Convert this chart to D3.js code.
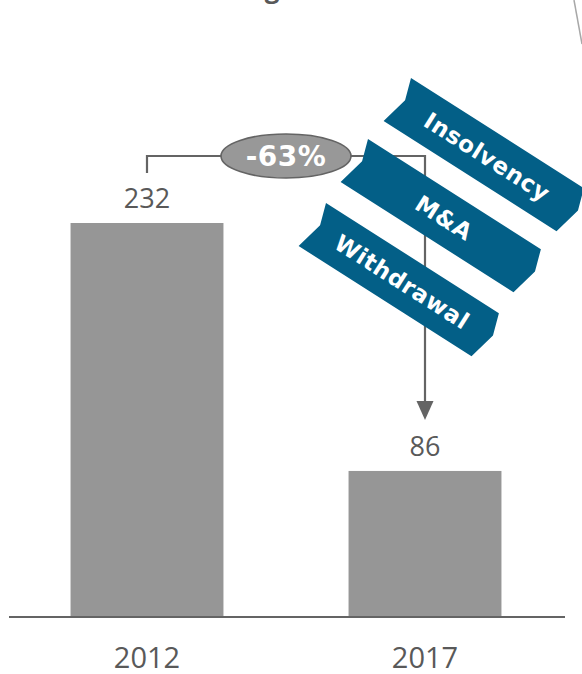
<!DOCTYPE html>
<html>
<head>
<meta charset="utf-8">
<script src="https://cdn.jsdelivr.net/npm/d3@7"></script>
<style>
  body { margin: 0; background: #fff; }
  svg { display: block; }
</style>
</head>
<body>
<div id="chart"></div>
<script>
// data
var years = ["2012", "2017"];
var counts = [232, 86];
var drivers = ["Insolvency", "M&A", "Withdrawal"];

var width = 582, height = 674,
    baseY = 617,
    barColor = "#969696",
    textColor = "#595959",
    lineColor = "#646464",
    bannerColor = "#035f87";

// where the three ribbons sit (top-left corner of each), rotated 32.5deg
var bannerAt = [[411, 78], [368, 139], [326, 203]],
    bannerLen = 205, bannerW = 51;

var svg = d3.select("#chart").append("svg")
  .attr("width", width)
  .attr("height", height);

var x = d3.scaleBand()
  .domain(years)
  .range([8, 564])
  .paddingInner(0.45)
  .paddingOuter(0.225);

var y = d3.scaleLinear()
  .domain([0, 232])
  .range([baseY, 223]);

// cut-off bits at the top of the slide
svg.append("text")
  .attr("x", 272).attr("y", -2)
  .attr("text-anchor", "middle")
  .style("font-family", "Open Sans")
  .style("font-weight", "bold")
  .style("font-size", "26px")
  .style("fill", textColor)
  .text("g");

svg.append("path")
  .attr("d", "M574,0 Q578,22 582,44")
  .style("fill", "none")
  .style("stroke", "#a8a8a8")
  .style("stroke-width", 1.5);

// bars
svg.selectAll("rect.bar")
  .data(counts)
  .enter().append("rect")
  .attr("class", "bar")
  .attr("x", function(d, i) { return x(years[i]); })
  .attr("y", function(d) { return y(d); })
  .attr("width", x.bandwidth())
  .attr("height", function(d) { return y(0) - y(d); })
  .style("fill", barColor);

// value labels
svg.selectAll("text.val")
  .data(counts)
  .enter().append("text")
  .attr("class", "val")
  .attr("x", function(d, i) { return x(years[i]) + x.bandwidth() / 2; })
  .attr("y", function(d) { return y(d) - 15; })
  .attr("text-anchor", "middle")
  .style("font-family", "Open Sans")
  .style("font-size", "27px")
  .style("fill", textColor)
  .text(function(d) { return d; });

// x axis
var axis = svg.append("g")
  .attr("transform", "translate(0," + baseY + ")")
  .call(d3.axisBottom(x).tickSize(0).tickPadding(30));
axis.select(".domain")
  .attr("d", "M9,0H565")
  .style("stroke", lineColor)
  .style("stroke-width", 2);
axis.selectAll("text")
  .style("font-family", "Open Sans")
  .style("font-size", "29px")
  .style("fill", textColor);

// bracket with change bubble
var cx0 = x(years[0]) + x.bandwidth() / 2,
    cx1 = x(years[1]) + x.bandwidth() / 2,
    topY = y(counts[0]) - 67,
    tipY = y(counts[1]) - 51;

svg.append("path")
  .attr("d", "M" + cx0 + "," + (y(counts[0]) - 50) + "V" + topY + "H" + cx1 + "V" + (tipY - 18))
  .style("fill", "none")
  .style("stroke", lineColor)
  .style("stroke-width", 2.2);

svg.append("path")
  .attr("d", "M" + (cx1 - 8.5) + "," + (tipY - 19) + "L" + (cx1 + 8.5) + "," + (tipY - 19) + "L" + cx1 + "," + tipY + "Z")
  .style("fill", lineColor);

var change = (counts[1] - counts[0]) / counts[0];
var mid = (cx0 + cx1) / 2;

svg.append("ellipse")
  .attr("cx", mid).attr("cy", topY)
  .attr("rx", 65).attr("ry", 22)
  .style("fill", "#989898")
  .style("stroke", lineColor)
  .style("stroke-width", 1.6);

svg.append("text")
  .attr("x", mid).attr("y", topY)
  .attr("dy", "0.36em")
  .attr("text-anchor", "middle")
  .style("font-family", "DejaVu Sans")
  .style("font-weight", "bold")
  .style("font-size", "28px")
  .style("letter-spacing", "0.5px")
  .style("fill", "#fff")
  .text(d3.format(".0%")(change).replace("\u2212", "-"));

// ribbons
var ribbon = "M0,0H" + bannerLen + "L" + (bannerLen + 7) + ",22L" + bannerLen + "," + bannerW +
             "H0L7,22Z";

var banners = svg.selectAll("g.banner")
  .data(drivers)
  .enter().append("g")
  .attr("class", "banner")
  .attr("transform", function(d, i) {
    return "translate(" + bannerAt[i][0] + "," + bannerAt[i][1] + ") rotate(32.5)";
  });

banners.append("path")
  .attr("d", ribbon)
  .style("fill", bannerColor);

banners.append("text")
  .attr("x", bannerLen / 2 + 4)
  .attr("y", bannerW / 2)
  .attr("dy", "0.36em")
  .attr("text-anchor", "middle")
  .style("font-family", "DejaVu Sans")
  .style("font-weight", "bold")
  .style("font-size", "23px")
  .style("letter-spacing", "0.6px")
  .style("fill", "#fff")
  .text(function(d) { return d; });
</script>
</body>
</html>
